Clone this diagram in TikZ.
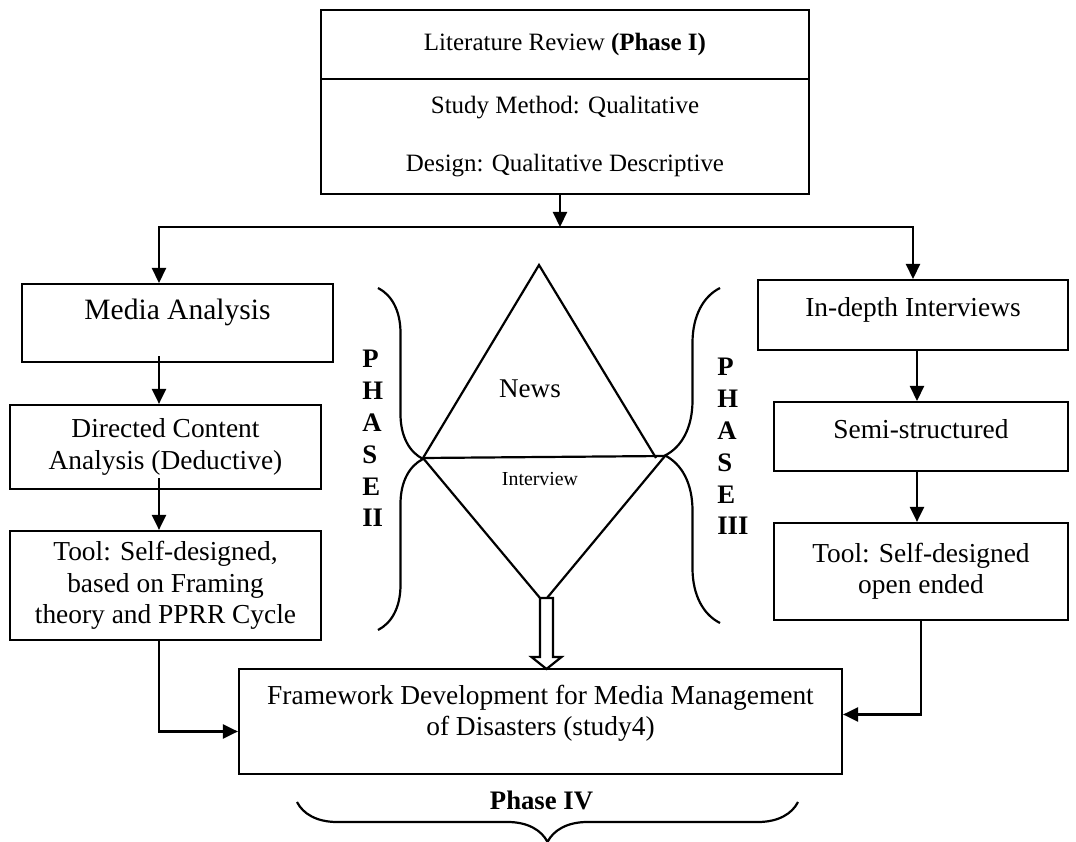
\documentclass[tikz,border=0pt]{standalone}
\usepackage{fontspec}
\setmainfont{Liberation Serif}
\usetikzlibrary{arrows.meta,decorations.pathreplacing}
\tikzset{bloc/.style={draw,line width=1.25pt,align=center,inner sep=2pt,font=\fontsize{15.6}{17.8}\selectfont},ligne/.style={inner ysep=0pt,text height=0.72cm},flux/.style={-{Triangle[length=0.3cm,width=0.28cm]},line width=1.25pt},trait/.style={line width=1.25pt},vert/.style={align=left,inner sep=0pt,font=\bfseries\fontsize{15.2}{18.1}\selectfont},accol/.style={decorate,line width=1.25pt,decoration={brace,amplitude=#1}}}

\begin{document}
\begin{tikzpicture}
\useasboundingbox (0,0) rectangle (21.52,-16.84);
\node[bloc,minimum width=9.76cm,minimum height=1.38cm,font=\fontsize{14.2}{16.5}\selectfont] (lit) at (11.3,-0.89) {Literature Review \textbf{(Phase I)}};
\node[bloc,minimum width=9.76cm,minimum height=2.3cm,font=\fontsize{14.2}{16.5}\selectfont] (design) at (11.3,-2.73) {Study Method: Qualitative\\[16pt]Design: Qualitative Descriptive};
\node[bloc,ligne,text height=0.7cm,text depth=0.86cm,minimum width=6.22cm,anchor=north,font=\fontsize{16.8}{19}\selectfont] (media) at (3.55,-5.66) {Media Analysis};
\node[bloc,minimum width=6.22cm,minimum height=1.68cm] (directed) at (3.31,-8.94) {Directed Content\\Analysis (Deductive)};
\node[bloc,minimum width=6.22cm,minimum height=2.18cm] (tool1) at (3.31,-11.71) {Tool: Self-designed,\\based on Framing\\theory and PPRR Cycle};
\node[bloc,ligne,text depth=0.68cm,minimum width=6.2cm,anchor=north] (indepth) at (18.26,-5.58) {In-depth Interviews};
\node[bloc,ligne,text depth=0.66cm,minimum width=5.88cm,anchor=north] (semi) at (18.42,-8.02) {Semi-structured};
\node[bloc,minimum width=5.88cm,minimum height=1.94cm] (tool2) at (18.42,-11.43) {Tool: Self-designed\\open ended};
\node[bloc,minimum width=12.06cm,minimum height=2.1cm] (frame) at (10.81,-14.43) {Framework Development for Media Management\\of Disasters (study4)\rule[-0.46cm]{0pt}{0pt}};
\coordinate (split) at (11.2,-4.54);
\coordinate (lcol) at (3.18,0);
\coordinate (rcol) at (18.34,0);
\draw[flux] (design.south -| split) -- (split);
\draw[flux] (split) -| (media.north -| lcol);
\draw[flux] (split) -| (indepth.north);
\draw[flux,shorten <=-0.14cm] (media.south -| lcol) -- (directed.north -| lcol);
\draw[flux,shorten <=-0.24cm] (directed.south -| lcol) -- (tool1.north -| lcol);
\draw[flux] (tool1.south -| lcol) |- ([yshift=-0.2cm]frame.west);
\draw[flux] (indepth.south -| rcol) -- (semi.north -| rcol);
\draw[flux] (semi.south -| rcol) -- (tool2.north -| rcol);
\draw[flux] (tool2.south) |- ([yshift=0.14cm]frame.east);
\coordinate (apex) at (10.78,-5.3);
\coordinate (lv) at (8.46,-9.16);
\coordinate (rt) at (13.12,-9.16);
\coordinate (rv) at (13.3,-9.12);
\coordinate (vtip) at (10.93,-11.96);
\draw[trait] (lv) -- (apex) -- (rt);
\draw[trait] (lv) -- (rv);
\draw[trait] (lv) -- (10.8,-11.96);
\draw[trait] (rv) -- (10.94,-11.96);
\node[font=\fontsize{15.4}{18}\selectfont] (news) at (10.6,-7.78) {News};
\node[font=\fontsize{11.3}{13}\selectfont] (interview) at (10.8,-9.58) {Interview};
\draw[trait,fill=white] (vtip) ++(-0.13,0) -- ++(0,-1.18) -- ++(-0.17,0) -- ++(0.3,-0.24) -- ++(0.3,0.24) -- ++(-0.17,0) -- ++(0,1.18) -- cycle;
\draw[accol=0.9cm] (7.56,-5.76) -- (7.56,-12.6);
\draw[accol=1.1cm] (14.4,-12.46) -- (14.4,-5.76);
\draw[accol=0.8cm] (15.96,-16.04) -- (5.94,-16.04);
\node[vert,anchor=north west] (ph2) at (7.24,-7.0) {P\\H\\A\\S\\E\\II};
\node[vert,anchor=north west] (ph3) at (14.34,-7.16) {P\\H\\A\\S\\E\\III};
\node[font=\bfseries\fontsize{15.2}{18}\selectfont] (ph4) at (10.83,-16.0) {Phase IV};
\end{tikzpicture}
\end{document}
